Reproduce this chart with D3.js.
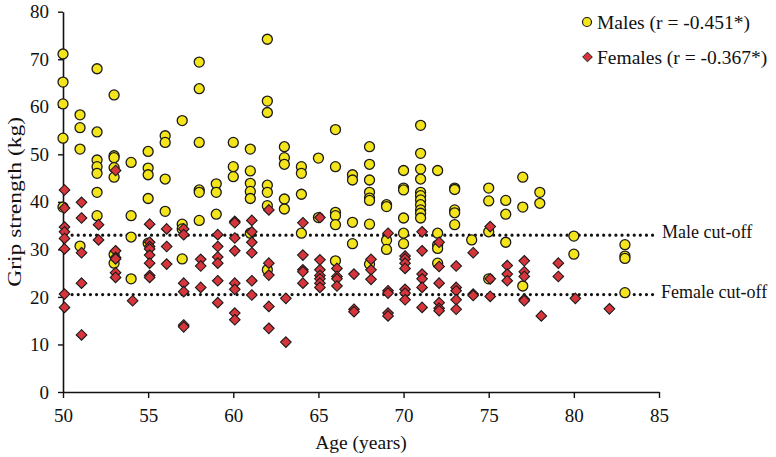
<!DOCTYPE html>
<html>
<head>
<meta charset="utf-8">
<script src="https://cdn.jsdelivr.net/npm/d3@7"></script>
<style>
  html, body { margin: 0; padding: 0; background: #fff; }
  svg text { font-family: "Liberation Serif", "Times New Roman", serif; fill: #111; }
</style>
</head>
<body>
<svg id="chart" width="776" height="457"></svg>
<script>
// ---- data ----
const xTicks = [50, 55, 60, 65, 70, 75, 80, 85];
const yTicks = [0, 10, 20, 30, 40, 50, 60, 70, 80];

const maleAges = [50,51,52,53,54,55,56,57,58,59,60,61,62,63,64,65,66,67,68,69,70,71,72,73,74,75,76,77,78,80,83];
const maleGrip = [
  [71.1, 65.2, 60.6, 53.4, 38.9],
  [58.3, 55.6, 51.1, 30.7],
  [68.0, 54.7, 48.8, 47.4, 46.0, 42.0, 37.1],
  [62.5, 49.7, 49.3, 47.2, 45.2, 28.9, 27.1],
  [48.3, 37.1, 32.6, 23.8],
  [50.6, 47.1, 45.7, 40.7, 31.3],
  [53.9, 52.5, 44.8, 38.0],
  [57.1, 35.3, 34.3, 28.0],
  [69.4, 63.8, 52.5, 42.5, 42.0, 36.1],
  [43.8, 42.0, 37.4],
  [52.5, 47.4, 45.3],
  [51.1, 46.5, 43.9, 42.2, 40.7, 33.4],
  [74.2, 61.2, 58.8, 43.5, 42.0, 39.2, 25.7],
  [51.6, 49.3, 47.9, 40.6, 38.5],
  [47.4, 46.0, 41.6, 33.4],
  [49.2, 36.7],
  [55.2, 47.4, 37.8, 37.1, 35.2, 27.6],
  [45.7, 44.6, 35.7, 31.2],
  [51.6, 47.9, 44.6, 42.0, 40.8, 40.3, 35.3, 26.9],
  [39.4, 39.0, 31.9, 30.0],
  [46.6, 42.9, 42.5, 36.6, 33.4, 31.2],
  [56.1, 50.2, 46.9, 44.8, 42.0, 41.3, 40.4, 39.4, 38.3, 37.6, 36.6],
  [46.6, 33.4, 30.9, 30.2, 27.1],
  [42.9, 42.6, 38.3, 37.7, 35.2],
  [32.0],
  [42.9, 40.2, 33.7, 23.8],
  [40.3, 37.4, 31.5],
  [45.2, 38.9, 22.3],
  [42.0, 39.7],
  [32.8, 29.0],
  [31.0, 28.6, 28.1, 20.9]
];

const femaleAges = [50,51,52,53,54,55,56,57,58,59,60,61,62,63,64,65,66,67,68,69,70,71,72,73,74,75,76,77,78,79,80,82];
const femaleGrip = [
  [42.5, 38.7, 34.7, 33.7, 32.3, 30.1, 20.6, 17.8],
  [39.9, 36.6, 29.3, 22.9, 12.0],
  [35.2, 32.0],
  [46.6, 29.7, 28.3, 28.0, 25.1, 24.1],
  [19.2],
  [35.3, 31.5, 30.6, 30.1, 28.8, 27.1, 24.5, 24.1],
  [34.3, 30.6, 26.9],
  [34.3, 33.1, 22.9, 21.1, 14.1, 13.7],
  [27.9, 26.5, 22.0],
  [33.1, 30.6, 28.4, 27.1, 23.4, 18.8],
  [35.9, 35.6, 32.4, 29.7, 22.9, 21.6, 16.6, 15.2],
  [36.1, 33.7, 31.5, 29.3, 23.4, 20.4],
  [38.3, 27.1, 24.6, 18.0, 13.4],
  [19.7, 10.5],
  [35.6, 28.8, 25.7, 25.3, 22.9],
  [36.7, 27.8, 25.7, 24.5, 23.8, 22.9, 22.0],
  [26.0, 24.3, 23.8, 22.3],
  [24.8, 17.4, 16.9],
  [27.9, 25.7, 23.7],
  [33.4, 21.3, 20.8, 16.6, 16.0],
  [28.6, 28.0, 27.1, 26.0, 21.6, 20.8, 19.4],
  [33.7, 29.7, 24.8, 23.8, 22.0, 17.8],
  [31.5, 26.4, 22.9, 18.8, 17.6, 17.1],
  [26.5, 22.0, 21.3, 19.4, 17.4],
  [29.3, 20.6, 20.3],
  [34.8, 23.8, 20.1],
  [26.6, 24.8, 23.4],
  [27.6, 25.3, 24.3, 19.5, 19.2],
  [16.0],
  [27.1, 24.3],
  [19.7],
  [17.5]
];

const cutoffNames = ["Male cut-off", "Female cut-off"];
const cutoffValues = [33, 20.5];
const legendNames = ["Males (r = -0.451*)", "Females (r = -0.367*)"];

// ---- build point lists ----
const males = [];
maleAges.forEach((a, i) => maleGrip[i].forEach(g => males.push({age: a, grip: g})));
const females = [];
femaleAges.forEach((a, i) => femaleGrip[i].forEach(g => females.push({age: a, grip: g})));

// ---- layout ----
const svg = d3.select("#chart");
const x = d3.scaleLinear().domain([50, 85]).range([63, 659]);
const y = d3.scaleLinear().domain([0, 80]).range([392, 11.7]);

const yellow = "#f4e41c";
const red = "#d6363b";
const edge = "#1a1a1a";

// axes
const xAxis = svg.append("g")
  .attr("transform", `translate(0,${y(0)})`)
  .call(d3.axisBottom(x).tickValues(xTicks).tickSize(6).tickSizeOuter(0).tickPadding(11).tickFormat(d3.format("d")));
const yAxis = svg.append("g")
  .attr("transform", `translate(${x(50)},0)`)
  .call(d3.axisLeft(y).tickValues(yTicks).tickSize(5).tickSizeOuter(0).tickPadding(9).tickFormat(d3.format("d")));
[xAxis, yAxis].forEach(g => {
  g.select(".domain").attr("stroke", "#111").attr("stroke-width", 1.6);
  g.selectAll(".tick line").attr("stroke", "#111").attr("stroke-width", 1.4);
  g.selectAll(".tick text").attr("font-size", 19).attr("font-family", "Liberation Serif, serif").attr("fill", "#111");
});

// axis titles
svg.append("text")
  .attr("x", (x(50) + x(85)) / 2)
  .attr("y", 449)
  .attr("text-anchor", "middle")
  .attr("font-size", 19.5)
  .text("Age (years)");
svg.append("text")
  .attr("transform", `translate(21,${y(40)}) rotate(-90)`)
  .attr("text-anchor", "middle")
  .attr("font-size", 19.5)
  .attr("textLength", 170)
  .attr("lengthAdjust", "spacingAndGlyphs")
  .text("Grip strength (kg)");

// cut-off lines
const cut = svg.append("g");
cutoffValues.forEach((v, i) => {
  cut.append("line")
    .attr("x1", x(50) + 3).attr("x2", x(84.65))
    .attr("y1", y(v)).attr("y2", y(v))
    .attr("stroke", "#111")
    .attr("stroke-width", 3.2)
    .attr("stroke-linecap", "round")
    .attr("stroke-dasharray", "0.01,6.1");
  cut.append("text")
    .attr("x", x(84.65) + 9 - (i === 1 ? 1 : 0))
    .attr("y", y(v) + 4.5 - (i === 1 ? 1.5 : 2))
    .attr("font-size", 18)
    .text(cutoffNames[i]);
});

// points
const diamond = (cx, cy, r) => `M${cx},${cy - r}L${cx + r},${cy}L${cx},${cy + r}L${cx - r},${cy}Z`;

svg.append("g").selectAll("circle").data(males).join("circle")
  .attr("cx", d => x(d.age))
  .attr("cy", d => y(d.grip))
  .attr("r", 5)
  .attr("fill", yellow)
  .attr("stroke", edge)
  .attr("stroke-width", 1.3);

svg.append("g").selectAll("path").data(females).join("path")
  .attr("d", d => diamond(x(d.age) + 1.5, y(d.grip), 5.3))
  .attr("fill", red)
  .attr("stroke", edge)
  .attr("stroke-width", 1.1);

// legend
const leg = svg.append("g");
leg.append("circle").attr("cx", 587).attr("cy", 22).attr("r", 4.5)
  .attr("fill", yellow).attr("stroke", edge).attr("stroke-width", 1.2);
leg.append("path").attr("d", diamond(587.5, 57, 4.8))
  .attr("fill", red).attr("stroke", edge).attr("stroke-width", 1);
leg.append("text").attr("x", 597).attr("y", 28.5).attr("font-size", 19.5).text(legendNames[0]);
leg.append("text").attr("x", 597).attr("y", 63.5).attr("font-size", 19.5).text(legendNames[1]);
</script>
</body>
</html>
